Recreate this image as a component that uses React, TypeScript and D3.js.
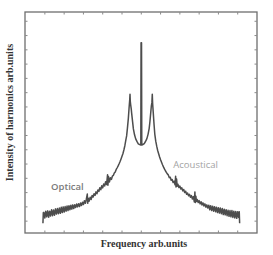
import React from "react";
import * as d3 from "d3";

// spectrum (frequency in tick units, intensity in tick units)
const FREQ = [
  -5.10, -5.08, -5.05, -5.00, -4.95, -4.90, -4.85, -4.80, -4.75, -4.70, -4.65, -4.60, -4.55, -4.50,
  -4.45, -4.40, -4.35, -4.30, -4.25, -4.20, -4.15, -4.10, -4.05, -4.00, -3.95, -3.90, -3.85, -3.80,
  -3.75, -3.70, -3.65, -3.60, -3.55, -3.50, -3.45, -3.40, -3.35, -3.30, -3.25, -3.20, -3.15, -3.10,
  -3.05, -3.00, -2.95, -2.90, -2.85, -2.80, -2.78, -2.75, -2.70, -2.65, -2.60, -2.55, -2.50, -2.45,
  -2.40, -2.35, -2.30, -2.25, -2.20, -2.15, -2.10, -2.05, -2.00, -1.95, -1.90, -1.85, -1.80, -1.75,
  -1.73, -1.70, -1.65, -1.60, -1.55, -1.50, -1.45, -1.40, -1.35, -1.30, -1.25, -1.20, -1.15, -1.10,
  -1.05, -1.00, -0.95, -0.90, -0.85, -0.80, -0.76, -0.72, -0.67, -0.63, -0.60, -0.585, -0.57, -0.55,
  -0.52, -0.50, -0.45, -0.41, -0.35, -0.29, -0.22, -0.155, -0.08, -0.025, -0.012,
  0.012, 0.025, 0.08, 0.155, 0.22, 0.29, 0.35, 0.41, 0.45, 0.49, 0.52, 0.55, 0.57, 0.59, 0.62, 0.66,
  0.70, 0.75, 0.80, 0.85, 0.90, 0.95, 1.00, 1.05, 1.10, 1.15, 1.20, 1.25, 1.30, 1.35, 1.40, 1.45,
  1.50, 1.55, 1.60, 1.65, 1.70, 1.75, 1.78, 1.80, 1.83, 1.86, 1.90, 1.95, 2.00, 2.05, 2.10, 2.15,
  2.20, 2.25, 2.30, 2.35, 2.40, 2.45, 2.50, 2.55, 2.60, 2.65, 2.70, 2.75, 2.78, 2.80, 2.83, 2.86,
  2.90, 2.95, 3.00, 3.05, 3.10, 3.15, 3.20, 3.25, 3.30, 3.35, 3.40, 3.45, 3.50, 3.55, 3.60, 3.65,
  3.70, 3.75, 3.80, 3.85, 3.90, 3.95, 4.00, 4.05, 4.10, 4.15, 4.20, 4.25, 4.30, 4.35, 4.40, 4.45,
  4.50, 4.55, 4.60, 4.65, 4.70, 4.75, 4.80, 4.85, 4.90, 4.95, 5.00, 5.05, 5.08, 5.10,
];

const INTENSITY = [
  -0.15, 0.60, 0.62, 0.22, 0.70, 0.30, 0.72, 0.28, 0.70, 0.36, 0.80, 0.38, 0.78, 0.42,
  0.86, 0.50, 0.88, 0.52, 0.92, 0.55, 0.98, 0.60, 1.00, 0.64, 1.02, 0.70, 1.06, 0.74,
  1.08, 0.80, 1.12, 0.84, 1.14, 0.88, 1.15, 0.96, 1.20, 1.00, 1.22, 1.03, 1.27, 1.10,
  1.33, 1.16, 1.43, 1.25, 1.54, 1.90, 1.25, 1.60, 1.40, 1.68, 1.52, 1.80, 1.68, 1.92,
  1.80, 2.05, 1.92, 2.18, 2.08, 2.34, 2.20, 2.48, 2.33, 2.60, 2.46, 2.76, 2.56, 3.25,
  2.52, 3.12, 2.75, 3.04, 2.92, 3.15, 3.20, 3.38, 3.45, 3.62, 3.74, 3.87, 4.02, 4.18,
  4.36, 4.55, 4.74, 5.00, 5.30, 5.70, 5.97, 6.50, 7.22, 8.00, 8.50, 8.89, 8.40, 8.15,
  7.85, 7.57, 6.95, 6.46, 6.05, 5.76, 5.57, 5.42, 5.36, 5.33, 12.5,
  12.5, 5.33, 5.37, 5.43, 5.58, 5.78, 6.08, 6.50, 7.00, 7.60, 8.05, 8.30, 8.89, 8.20, 7.60, 6.80,
  6.10, 5.60, 5.25, 4.95, 4.72, 4.50, 4.30, 4.12, 3.95, 3.80, 3.66, 3.53, 3.42, 3.31, 3.24, 3.05,
  3.08, 2.87, 2.92, 2.71, 2.80, 2.55, 3.15, 2.40, 2.95, 2.45, 2.58, 2.36, 2.46, 2.25, 2.34, 2.12,
  2.22, 2.00, 2.10, 1.89, 1.97, 1.78, 1.88, 1.68, 1.79, 1.55, 1.72, 1.35, 2.05, 1.30, 1.75, 1.38,
  1.52, 1.30, 1.44, 1.21, 1.36, 1.13, 1.28, 1.06, 1.21, 0.98, 1.14, 0.92, 1.12, 0.80, 1.08, 0.74,
  1.05, 0.70, 1.01, 0.66, 0.98, 0.60, 0.94, 0.57, 0.92, 0.52, 0.88, 0.46, 0.84, 0.44, 0.80, 0.38,
  0.76, 0.34, 0.74, 0.30, 0.74, 0.26, 0.70, 0.22, 0.68, 0.20, 0.66, 0.26, 0.66, -0.15,
];

const X_TICKS = [-5, -4, -3, -2, -1, 0, 1, 2, 3, 4, 5];
const Y_TICKS = [0, 1, 2, 3, 4, 5, 6, 7, 8, 9, 10, 11, 12, 13, 14];

const LABELS = [
  { text: "Optical", f: -4.68, v: 2.15, color: "#7a7a7a", weight: 600 },
  { text: "Acoustical", f: 1.66, v: 3.75, color: "#a3a3a3", weight: 400 },
];

export default function App() {
  const width = 273;
  const height = 255;
  const frame = { left: 25, right: 257, top: 12, bottom: 233 };

  const x = d3.scaleLinear().domain([-6.03, 6.0]).range([frame.left, frame.right]);
  const y = d3.scaleLinear().domain([-0.83, 14.65]).range([frame.bottom, frame.top]);

  const pts: [number, number][] = FREQ.map((f, i) => [f, INTENSITY[i]]);
  const line = d3.line<[number, number]>()
    .x(d => x(d[0]))
    .y(d => y(d[1]));

  const tickLen = 2.5;
  const tickColor = "#8a8a8a";

  return (
    <svg width={width} height={height} style={{ position: "absolute", left: 0, top: 0, background: "#fff" }}>
      {/* frame */}
      <rect x={frame.left} y={frame.top} width={frame.right - frame.left} height={frame.bottom - frame.top}
        fill="none" stroke="#6e6e6e" strokeWidth={1.3} />

      {/* inner ticks */}
      {X_TICKS.map(t => (
        <g key={"xt" + t}>
          <line x1={x(t)} x2={x(t)} y1={frame.top} y2={frame.top + tickLen} stroke={tickColor} strokeWidth={1} />
          <line x1={x(t)} x2={x(t)} y1={frame.bottom} y2={frame.bottom - tickLen} stroke={tickColor} strokeWidth={1} />
        </g>
      ))}
      {Y_TICKS.map(t => (
        <g key={"yt" + t}>
          <line x1={frame.left} x2={frame.left + tickLen} y1={y(t)} y2={y(t)} stroke={tickColor} strokeWidth={1} />
          <line x1={frame.right} x2={frame.right - tickLen} y1={y(t)} y2={y(t)} stroke={tickColor} strokeWidth={1} />
        </g>
      ))}

      {/* spectrum */}
      <path d={line(pts) || ""} fill="none" stroke="#4d4d4d" strokeWidth={1.5} strokeLinejoin="round" />

      {/* branch labels */}
      {LABELS.map(l => (
        <text key={l.text} x={x(l.f)} y={y(l.v)} fill={l.color} fontWeight={l.weight}
          fontFamily="'Open Sans', sans-serif" fontSize={9.5}>
          {l.text}
        </text>
      ))}

      {/* axis titles */}
      <text x={144} y={247} textAnchor="middle" fontFamily="'Liberation Serif', serif" fontWeight="bold"
        fontSize={10} fill="#333">
        Frequency arb.units
      </text>
      <text transform={`translate(13,${(frame.top + frame.bottom) / 2 - 10}) rotate(-90)`} textAnchor="middle"
        fontFamily="'Liberation Serif', serif" fontWeight="bold" fontSize={10} fill="#333">
        Intensity of harmonics arb.units
      </text>
    </svg>
  );
}
